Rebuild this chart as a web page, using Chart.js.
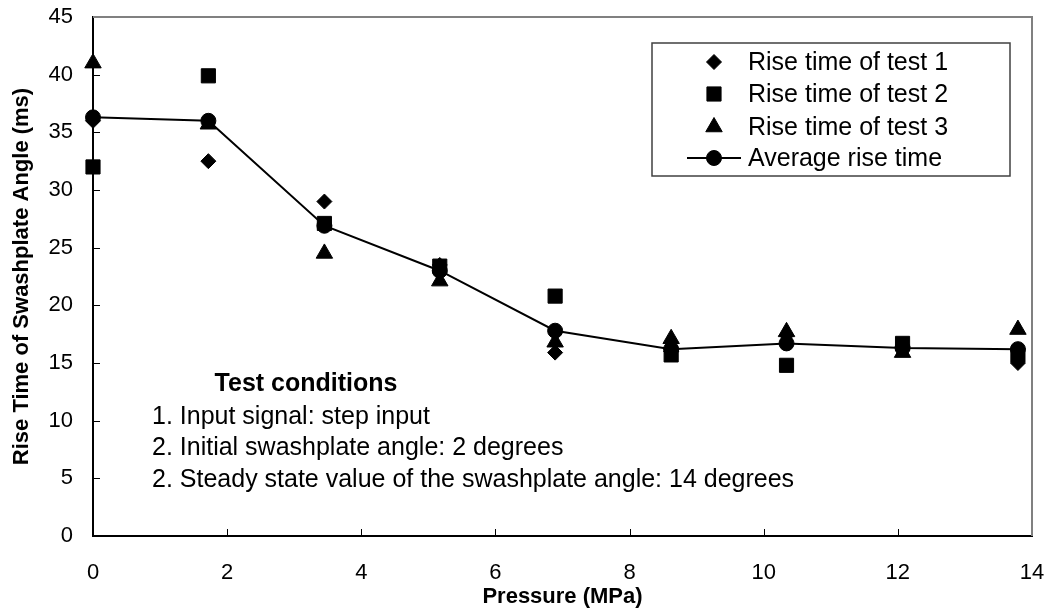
<!DOCTYPE html>
<html lang="en">
<head>
<meta charset="UTF-8">
<title>Rise time of swashplate angle</title>
<style>
    * { margin: 0; padding: 0; box-sizing: border-box; }
    body { background: #fff; width: 1048px; height: 615px; overflow: hidden; }
    #wrap { position: relative; width: 1048px; height: 615px; }
</style>
</head>
<body>
<div id="wrap"><canvas id="rise" width="1048" height="615"></canvas></div>

<script src="https://cdn.jsdelivr.net/npm/chart.js@4.4.1/dist/chart.umd.min.js"></script>
<script>
"use strict";

// pressure steps (MPa)
const pressure  = [0, 1.72, 3.45, 5.17, 6.89, 8.62, 10.34, 12.07, 13.79]
// rise time (ms)
const test1     = [36.0, 32.5, 29.0, 23.5, 15.9, 16.0, 17.4, 16.4, 15.0]
const test2     = [32.0, 39.9, 27.1, 23.4, 20.8, 15.7, 14.8, 16.7, 15.7]
const test3     = [41.0, 35.7, 24.5, 22.1, 16.8, 17.1, 17.7, 15.9, 17.9]
const average   = [36.3, 36.0, 26.9, 23.0, 17.8, 16.2, 16.7, 16.3, 16.2]

const seriesNames = ["Rise time of test 1", "Rise time of test 2", "Rise time of test 3", "Average rise time"]
const xTicks    = [0, 2, 4, 6, 8, 10, 12, 14]
const yTicks    = [0, 5, 10, 15, 20, 25, 30, 35, 40, 45]

const notesTitle = "Test conditions"
const notes = [
    "1. Input signal: step input",
    "2. Initial swashplate angle: 2 degrees",
    "2. Steady state value of the swashplate angle: 14 degrees"
]

function pts(ys) {
    return pressure.map((p, i) => ({ x: p, y: ys[i] }))
}

function markerSet(label, data, style, r, order) {
    return {
        label: label,
        data: pts(data),
        showLine: false,
        pointStyle: style,
        pointRadius: r,
        pointHoverRadius: r,
        pointBackgroundColor: '#000',
        pointBorderColor: '#000',
        pointBorderWidth: 1,
        clip: false,
        order: order
    }
}

const datasets = [
    markerSet(seriesNames[0], test1, 'rectRot', 7.5, 3),
    markerSet(seriesNames[1], test2, 'rect', 10, 2),
    markerSet(seriesNames[2], test3, 'triangle', 9.5, 1),
    {
        label: seriesNames[3],
        data: pts(average),
        showLine: true,
        borderColor: '#000',
        borderWidth: 2,
        pointStyle: 'circle',
        pointRadius: 7.5,
        pointHoverRadius: 7.5,
        pointBackgroundColor: '#000',
        pointBorderColor: '#000',
        pointBorderWidth: 1,
        clip: false,
        order: 0
    }
]

// plot border (top/right), inside tick marks, legend box and notes
const overlay = {
    id: 'overlay',
    afterDraw(chart) {
        const ctx = chart.ctx
        const a = chart.chartArea
        const xs = chart.scales.x
        const ys = chart.scales.y
        ctx.save()

        ctx.strokeStyle = '#808080'
        ctx.lineWidth = 2
        ctx.beginPath()
        ctx.moveTo(a.left, a.top)
        ctx.lineTo(a.right, a.top)
        ctx.lineTo(a.right, a.bottom)
        ctx.stroke()

        ctx.strokeStyle = '#000'
        ctx.lineWidth = 1
        ctx.beginPath()
        xTicks.slice(1, -1).forEach(v => {
            const px = Math.round(xs.getPixelForValue(v)) + 0.5
            ctx.moveTo(px, a.bottom)
            ctx.lineTo(px, a.bottom - 7)
        })
        yTicks.slice(1, -1).forEach(v => {
            const py = Math.round(ys.getPixelForValue(v)) + 0.5
            ctx.moveTo(a.left, py)
            ctx.lineTo(a.left + 7, py)
        })
        ctx.stroke()

        // legend
        const lg = { left: 652, top: 43, right: 1010, bottom: 176 }
        ctx.fillStyle = '#fff'
        ctx.fillRect(lg.left, lg.top, lg.right - lg.left, lg.bottom - lg.top)
        ctx.strokeStyle = '#404040'
        ctx.lineWidth = 1.5
        ctx.strokeRect(lg.left, lg.top, lg.right - lg.left, lg.bottom - lg.top)

        const rowY = [62, 94, 127, 158]
        ctx.font = '25px Arial, "Liberation Sans", sans-serif'
        ctx.textBaseline = 'middle'
        ctx.textAlign = 'left'
        chart.data.datasets.forEach((ds, i) => {
            const yy = rowY[i]
            ctx.fillStyle = '#000'
            ctx.strokeStyle = '#000'
            if (ds.showLine) {
                ctx.lineWidth = 2
                ctx.beginPath()
                ctx.moveTo(687, yy)
                ctx.lineTo(741, yy)
                ctx.stroke()
            }
            ctx.lineWidth = 1
            Chart.helpers.drawPoint(ctx, {
                pointStyle: ds.pointStyle,
                radius: ds.pointRadius,
                rotation: 0,
                borderWidth: 1
            }, 714, yy)
            ctx.fillStyle = '#000'
            ctx.fillText(ds.label, 748, yy + 1)
        })

        // test conditions
        ctx.fillStyle = '#000'
        ctx.textAlign = 'center'
        ctx.font = 'bold 25px Arial, "Liberation Sans", sans-serif'
        ctx.fillText(notesTitle, 306, 384)
        ctx.textAlign = 'left'
        ctx.font = '25px Arial, "Liberation Sans", sans-serif'
        notes.forEach((t, i) => ctx.fillText(t, 152, 417 + i * 31.5))

        ctx.restore()
    }
}

const tickFont = { family: 'Arial, "Liberation Sans", sans-serif', size: 22 }
const titleFont = { family: 'Arial, "Liberation Sans", sans-serif', size: 22, weight: 'bold' }

new Chart(document.getElementById('rise').getContext('2d'), {
    type: 'scatter',
    data: { datasets: datasets },
    options: {
        responsive: false,
        animation: false,
        events: [],
        layout: { padding: { left: 0, right: 16, top: 17, bottom: 0 } },
        plugins: {
            legend: { display: false },
            tooltip: { enabled: false }
        },
        scales: {
            x: {
                type: 'linear',
                min: 0,
                max: 14,
                grid: { display: false, drawTicks: false },
                border: { display: true, color: '#000', width: 2 },
                ticks: {
                    stepSize: 2,
                    color: '#000',
                    font: tickFont,
                    padding: 24,
                    maxRotation: 0
                },
                title: {
                    display: true,
                    text: 'Pressure (MPa)',
                    color: '#000',
                    font: titleFont,
                    padding: { top: 0, bottom: 5 }
                },
                afterFit: s => { s.height = 79; s.paddingLeft = 0; s.paddingRight = 0 }
            },
            y: {
                type: 'linear',
                min: 0,
                max: 45,
                grid: { display: false, drawTicks: false },
                border: { display: true, color: '#000', width: 2 },
                ticks: {
                    stepSize: 5,
                    color: '#000',
                    font: tickFont,
                    padding: 20
                },
                title: {
                    display: true,
                    text: 'Rise Time of Swashplate Angle (ms)',
                    color: '#000',
                    font: titleFont,
                    padding: { top: 9, bottom: 0 }
                },
                afterFit: s => { s.width = 93; s.paddingTop = 0; s.paddingBottom = 0 }
            }
        }
    },
    plugins: [overlay]
})
</script>
</body>
</html>
